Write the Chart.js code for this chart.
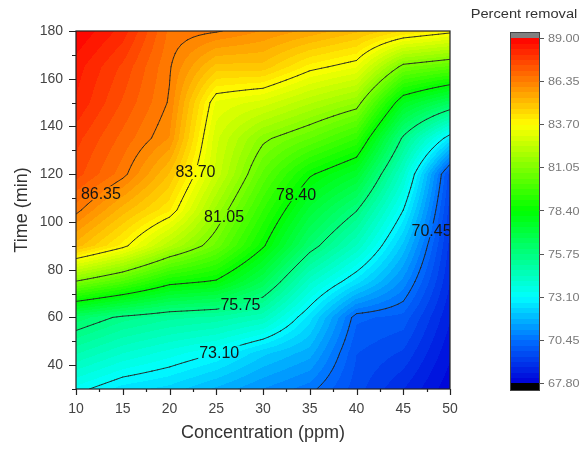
<!DOCTYPE html>
<html>
<head>
<meta charset="utf-8">
<title>Percent removal</title>
<script src="https://cdn.jsdelivr.net/npm/chart.js@4.4.1/dist/chart.umd.min.js"></script>
<style>
  body { margin: 0; background: #fff; }
  #wrap { width: 581px; height: 450px; }
</style>
</head>
<body>
<div id="wrap"><canvas id="contour" width="581" height="450"></canvas></div>
<script>
// concentration (ppm) on x, contact time (min) on y
const concentration = [10, 15, 20, 25, 30, 35, 40, 45, 50];
const time = [30, 45, 60, 75, 90, 105, 120, 135, 150, 165, 180];

// percent removal, one row per time value (30 min first)
const removal = [
  [73.3, 72.6, 72.3, 71.7, 71.1, 70.6, 69.6, 68.8, 67.9],
  [74.8, 74.1, 73.6, 73.1, 72.2, 71.6, 69.8, 69.4, 68.2],
  [76.3, 75.6, 75.2, 75.0, 74.5, 72.6, 70.2, 70.0, 68.5],
  [81.0, 80.0, 78.7, 78.3, 76.7, 74.2, 72.6, 71.0, 68.8],
  [85.2, 83.9, 82.1, 80.6, 78.5, 76.1, 74.4, 72.0, 69.0],
  [86.5, 85.2, 84.1, 81.6, 79.4, 77.3, 75.8, 73.1, 69.3],
  [87.5, 86.5, 85.0, 82.6, 80.3, 78.5, 77.5, 74.2, 69.6],
  [87.8, 86.9, 86.0, 82.8, 81.2, 80.4, 79.4, 75.6, 72.7],
  [88.3, 87.3, 86.3, 83.3, 82.9, 82.1, 81.4, 77.8, 76.5],
  [88.5, 87.6, 86.4, 84.9, 84.9, 83.9, 83.4, 80.8, 80.3],
  [89.0, 88.2, 86.6, 86.4, 86.0, 85.6, 85.1, 84.4, 83.9]
];

// contour lines and colour scale ticks
const levels = [70.45, 73.10, 75.75, 78.40, 81.05, 83.70, 86.35];
const barTicks = [89.00, 86.35, 83.70, 81.05, 78.40, 75.75, 73.10, 70.45, 67.80];

// label spot for each contour line, as [concentration, time]
const labelAt = [[47.9, 96.8], [25.2, 45.3], [27.5, 67.5], [32.1, 114.7], [26.8, 100], [23.3, 121], [12.2, 114.7]];

const zMin = 67.8, zMax = 89.0;
const bandsPerLevel = 8;
const fontFamily = '"Liberation Sans", Arial, sans-serif';

// rainbow palette: value, r, g, b
const palette = [
  [67.80, 0, 0, 215],
  [70.45, 0, 110, 255],
  [73.10, 0, 255, 255],
  [75.75, 0, 255, 128],
  [78.40, 0, 255, 0],
  [81.05, 128, 255, 0],
  [83.70, 255, 255, 0],
  [86.35, 255, 128, 0],
  [89.00, 255, 0, 0]
];

function paletteColor(v) {
  if (v <= palette[0][0]) return palette[0].slice(1);
  for (let i = 0; i < palette.length - 1; i++) {
    const a = palette[i], b = palette[i + 1];
    if (v <= b[0]) {
      const f = (v - a[0]) / (b[0] - a[0]);
      return [a[1] + (b[1] - a[1]) * f, a[2] + (b[2] - a[2]) * f, a[3] + (b[3] - a[3]) * f];
    }
  }
  return palette[palette.length - 1].slice(1);
}

const bandStep = (levels[1] - levels[0]) / bandsPerLevel;
const bandCount = Math.round((zMax - zMin) / bandStep);

function bandColor(v) {
  let k = Math.floor((v - zMin) / bandStep);
  k = Math.max(0, Math.min(bandCount - 1, k));
  return paletteColor(zMin + (k + 0.5) * bandStep);
}

function lookup(arr, v) {
  let i = 0;
  while (i < arr.length - 2 && v > arr[i + 1]) i++;
  const f = (v - arr[i]) / (arr[i + 1] - arr[i]);
  return [i, Math.min(1, Math.max(0, f))];
}

// bilinear value between grid nodes
function removalAt(x, t) {
  const [i, fx] = lookup(concentration, x);
  const [j, ft] = lookup(time, t);
  const a = removal[j][i], b = removal[j][i + 1];
  const c = removal[j + 1][i], d = removal[j + 1][i + 1];
  return (a * (1 - fx) + b * fx) * (1 - ft) + (c * (1 - fx) + d * fx) * ft;
}

function refine(arr, sub) {
  const out = [];
  for (let i = 0; i < arr.length - 1; i++)
    for (let k = 0; k < sub; k++) out.push(arr[i] + (arr[i + 1] - arr[i]) * k / sub);
  out.push(arr[arr.length - 1]);
  return out;
}

// marching squares on a finer copy of the grid
function contourSegments(level, sub) {
  const xs = refine(concentration, sub), ts = refine(time, sub);
  const g = ts.map(t => xs.map(x => removalAt(x, t)));
  const segs = [];
  const cross = (x1, t1, v1, x2, t2, v2) => {
    const f = (level - v1) / (v2 - v1);
    return [x1 + (x2 - x1) * f, t1 + (t2 - t1) * f];
  };
  for (let j = 0; j < ts.length - 1; j++) {
    for (let i = 0; i < xs.length - 1; i++) {
      const x0 = xs[i], x1 = xs[i + 1], t0 = ts[j], t1 = ts[j + 1];
      const v0 = g[j][i], v1 = g[j][i + 1], v2 = g[j + 1][i + 1], v3 = g[j + 1][i];
      const s0 = v0 >= level, s1 = v1 >= level, s2 = v2 >= level, s3 = v3 >= level;
      const e = [null, null, null, null];
      if (s0 !== s1) e[0] = cross(x0, t0, v0, x1, t0, v1);
      if (s1 !== s2) e[1] = cross(x1, t0, v1, x1, t1, v2);
      if (s2 !== s3) e[2] = cross(x1, t1, v2, x0, t1, v3);
      if (s3 !== s0) e[3] = cross(x0, t1, v3, x0, t0, v0);
      const pts = e.filter(p => p);
      if (pts.length === 2) {
        segs.push([pts[0], pts[1]]);
      } else if (pts.length === 4) {
        const centre = (v0 + v1 + v2 + v3) / 4 >= level;
        if (centre === s0) { segs.push([e[0], e[1]], [e[2], e[3]]); }
        else { segs.push([e[3], e[0]], [e[1], e[2]]); }
      }
    }
  }
  return segs;
}

const contourPlugin = {
  id: 'contourPlugin',
  beforeDatasetsDraw(chart) {
    const { ctx, chartArea: a, scales: { x, y } } = chart;
    const w = Math.round(a.right - a.left), h = Math.round(a.bottom - a.top);
    const off = document.createElement('canvas');
    off.width = w; off.height = h;
    const octx = off.getContext('2d');
    const img = octx.createImageData(w, h);
    for (let py = 0; py < h; py++) {
      const t = y.getValueForPixel(a.top + py + 0.5);
      for (let px = 0; px < w; px++) {
        const c = bandColor(removalAt(x.getValueForPixel(a.left + px + 0.5), t));
        const k = (py * w + px) * 4;
        img.data[k] = c[0]; img.data[k + 1] = c[1]; img.data[k + 2] = c[2]; img.data[k + 3] = 255;
      }
    }
    octx.putImageData(img, 0, 0);
    ctx.drawImage(off, a.left, a.top);
  },
  afterDatasetsDraw(chart) {
    const { ctx, chartArea: a, scales: { x, y } } = chart;
    const toPx = p => [x.getPixelForValue(p[0]), y.getPixelForValue(p[1])];

    // contour lines with gaps under the labels
    ctx.save();
    ctx.font = '16px ' + fontFamily;
    const labels = levels.map((lv, n) => {
      const segs = contourSegments(lv, 8).map(s => [toPx(s[0]), toPx(s[1])]);
      const hint = toPx(labelAt[n]);
      let best = null, bd = Infinity;
      segs.forEach(s => {
        const mx = (s[0][0] + s[1][0]) / 2, my = (s[0][1] + s[1][1]) / 2;
        const d = (mx - hint[0]) ** 2 + (my - hint[1]) ** 2;
        if (d < bd) { bd = d; best = [mx, my]; }
      });
      const text = lv.toFixed(2);
      const tw = ctx.measureText(text).width;
      return { segs, text, cx: best[0], cy: best[1], w: tw + 2, h: 14 };
    });
    ctx.beginPath();
    ctx.rect(a.left, a.top, a.right - a.left, a.bottom - a.top);
    labels.forEach(l => ctx.rect(l.cx - l.w / 2, l.cy - l.h / 2, l.w, l.h));
    ctx.clip('evenodd');
    ctx.strokeStyle = 'rgba(35,35,35,0.9)';
    ctx.lineWidth = 1;
    ctx.lineCap = 'round';
    ctx.beginPath();
    labels.forEach(l => l.segs.forEach(s => { ctx.moveTo(s[0][0], s[0][1]); ctx.lineTo(s[1][0], s[1][1]); }));
    ctx.stroke();
    ctx.restore();

    ctx.save();
    ctx.beginPath();
    ctx.rect(a.left, a.top, a.right - a.left, a.bottom - a.top);
    ctx.clip();
    ctx.fillStyle = '#151515';
    ctx.font = '16px ' + fontFamily;
    ctx.textAlign = 'center';
    ctx.textBaseline = 'middle';
    labels.forEach(l => ctx.fillText(l.text, l.cx, l.cy + 1));
    ctx.restore();

    // frame and outward ticks
    ctx.save();
    ctx.strokeStyle = '#222';
    ctx.lineWidth = 1.2;
    ctx.strokeRect(a.left, a.top, a.right - a.left, a.bottom - a.top);
    ctx.beginPath();
    for (let v = 10; v <= 50.001; v += 2.5) {
      const px = Math.round(x.getPixelForValue(v)) + 0.5;
      const len = v % 5 === 0 ? 6 : 3;
      ctx.moveTo(px, a.bottom); ctx.lineTo(px, a.bottom + len);
    }
    for (let v = 30; v <= 180; v += 10) {
      const py = Math.round(y.getPixelForValue(v)) + 0.5;
      const len = v % 20 === 0 ? 7 : 4;
      ctx.moveTo(a.left, py); ctx.lineTo(a.left - len, py);
    }
    ctx.stroke();
    ctx.restore();
  },
  afterDraw(chart) {
    const { ctx } = chart;
    // colour scale
    const left = 510, right = 539, capTop = 32, top = 38, bottom = 383, capBottom = 390;
    const vy = v => top + (zMax - v) / (zMax - zMin) * (bottom - top);
    ctx.save();
    for (let k = 0; k < bandCount; k++) {
      const lo = zMin + k * bandStep, hi = lo + bandStep;
      const c = paletteColor(lo + bandStep / 2);
      ctx.fillStyle = `rgb(${c[0] | 0},${c[1] | 0},${c[2] | 0})`;
      const y0 = vy(hi), y1 = vy(lo);
      ctx.fillRect(left, Math.floor(y0), right - left, Math.ceil(y1) - Math.floor(y0));
    }
    ctx.fillStyle = '#808080';
    ctx.fillRect(left, capTop, right - left, top - capTop);
    ctx.fillStyle = '#000';
    ctx.fillRect(left, bottom, right - left, capBottom - bottom);
    ctx.strokeStyle = '#444';
    ctx.lineWidth = 1;
    ctx.strokeRect(left + 0.5, capTop + 0.5, right - left, capBottom - capTop);

    ctx.beginPath();
    barTicks.forEach(v => {
      const py = Math.round(vy(v)) + 0.5;
      ctx.moveTo(right, py); ctx.lineTo(right + 5, py);
    });
    ctx.strokeStyle = '#555';
    ctx.stroke();

    ctx.fillStyle = '#7a7a7a';
    ctx.font = '11px ' + fontFamily;
    ctx.textBaseline = 'middle';
    barTicks.forEach(v => {
      ctx.save();
      ctx.translate(right + 9, vy(v) + 1);
      ctx.scale(1.15, 1);
      ctx.fillText(v.toFixed(2), 0, 0);
      ctx.restore();
    });

    ctx.fillStyle = '#333';
    ctx.font = '12px ' + fontFamily;
    ctx.textAlign = 'center';
    ctx.textBaseline = 'alphabetic';
    ctx.translate(524, 18);
    ctx.scale(1.22, 1);
    ctx.fillText('Percent removal', 0, 0);
    ctx.restore();
  }
};

const gridPoints = [];
time.forEach((t, j) => concentration.forEach((c, i) => gridPoints.push({ x: c, y: t, v: removal[j][i] })));

const chart = new Chart(document.getElementById('contour'), {
  type: 'scatter',
  data: {
    datasets: [{
      label: 'Percent removal',
      data: gridPoints,
      pointRadius: 0,
      showLine: false
    }]
  },
  options: {
    responsive: false,
    animation: false,
    events: [],
    layout: { padding: { top: 31, right: 131, left: 0, bottom: 0 } },
    plugins: { legend: { display: false }, tooltip: { enabled: false } },
    scales: {
      x: {
        type: 'linear', min: 10, max: 50,
        border: { display: false },
        grid: { display: false, drawTicks: false },
        ticks: { stepSize: 5, maxRotation: 0, color: '#444', padding: 12, font: { family: fontFamily, size: 14 } },
        title: { display: true, text: 'Concentration (ppm)', color: '#333', padding: { top: 4, bottom: 6 }, font: { family: fontFamily, size: 18 } },
        afterFit: s => { s.height = 61; }
      },
      y: {
        type: 'linear', min: 30, max: 180,
        border: { display: false },
        grid: { display: false, drawTicks: false },
        ticks: {
          stepSize: 10, color: '#444', padding: 13, font: { family: fontFamily, size: 14 },
          callback: v => (v % 20 === 0 && v >= 40) ? v : ''
        },
        title: { display: true, text: 'Time (min)', color: '#333', padding: { top: 11, bottom: 4 }, font: { family: fontFamily, size: 18 } },
        afterFit: s => { s.width = 76; }
      }
    }
  },
  plugins: [contourPlugin]
});
</script>
</body>
</html>
